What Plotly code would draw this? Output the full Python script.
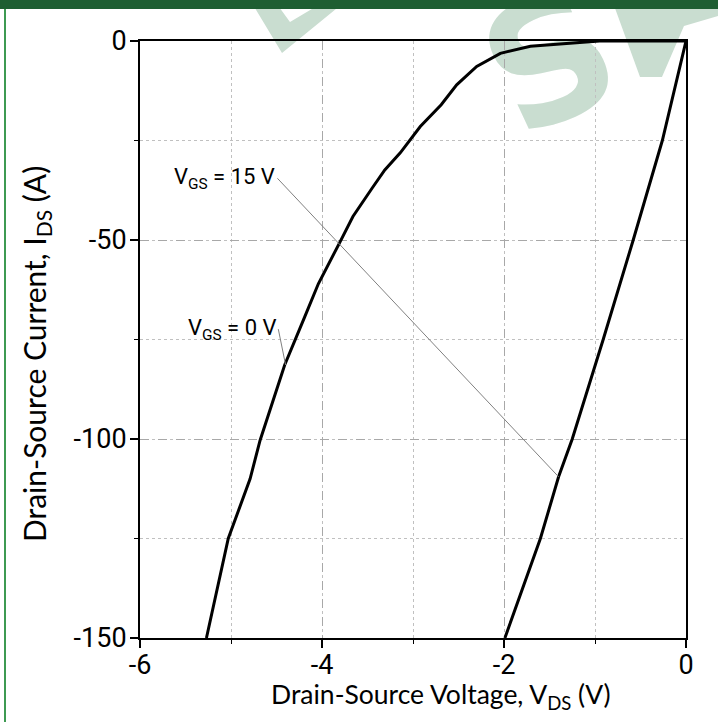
import plotly.graph_objects as go

# ---------------- data ----------------
vds_15v = [0, -0.26, -0.58, -0.91, -1.25, -1.40, -1.60, -1.99]
ids_15v = [0, -25, -50, -75, -100, -109.5, -125, -150]

vds_0v = [0, -0.95, -1.71, -2.04, -2.30, -2.52, -2.69, -2.92, -3.14, -3.31,
          -3.45, -3.66, -3.80, -4.04, -4.19, -4.41, -4.68, -4.79, -5.03, -5.27]
ids_0v = [0, 0, -1.3, -3.1, -6.4, -11, -16, -21.5, -28.1, -32.4,
          -37, -44.1, -50.4, -61, -69.3, -81.4, -100.3, -110, -125, -150]

x_ticks = [-6, -4, -2, 0]
y_ticks = [0, -50, -100, -150]

# ---------------- figure ----------------
W, H = 718, 722
ML, MR, MT, MB = 140, 32, 41, 84
PW, PH = W - ML - MR, H - MT - MB


def px(x):
    return (x - ML) / PW


def py(y):
    return (H - MB - y) / PH


COND = "Roboto, sans-serif"
TITLE = "Lato, Open Sans, sans-serif"

fig = go.Figure()
fig.add_trace(go.Scatter(x=vds_0v, y=ids_0v, mode="lines",
                         line=dict(color="black", width=3), showlegend=False))
fig.add_trace(go.Scatter(x=vds_15v, y=ids_15v, mode="lines",
                         line=dict(color="black", width=3), showlegend=False))

axis_common = dict(
    showline=True, linecolor="black", linewidth=2, mirror=True,
    ticks="outside", ticklen=8, tickwidth=2, tickcolor="black",
    showgrid=True, gridcolor="#a8a8a8", gridwidth=1, griddash="dash",
    zeroline=False,
    tickfont=dict(family=COND, size=27, color="black"),
)

fig.update_xaxes(range=[-6, 0], tickvals=x_ticks, ticktext=[str(v) for v in x_ticks],
                 ticklabelstandoff=-6,
                 minor=dict(dtick=1, tick0=0, ticks="outside", ticklen=4, tickwidth=1,
                            tickcolor="black", showgrid=True, gridcolor="#c0c0c0",
                            griddash="dot", gridwidth=1),
                 **axis_common)
fig.update_yaxes(range=[-150, 0], tickvals=y_ticks, ticktext=[str(v) for v in y_ticks],
                 ticklabelstandoff=-2,
                 minor=dict(dtick=25, tick0=0, ticks="outside", ticklen=4, tickwidth=1,
                            tickcolor="black", showgrid=True, gridcolor="#c0c0c0",
                            griddash="dot", gridwidth=1),
                 **axis_common)

annotations = [
    dict(x=-1.40, y=-109.5, ax=-4.49, ay=-34.5, xref="x", yref="y", axref="x", ayref="y",
         text="V<sub>GS</sub> = 15 V", showarrow=True, arrowhead=0, arrowwidth=1,
         arrowcolor="#808080", xanchor="right", yanchor="middle",
         font=dict(family=COND, size=22, color="black")),
    dict(x=-4.40, y=-81.4, ax=-4.48, ay=-72.4, xref="x", yref="y", axref="x", ayref="y",
         text="V<sub>GS</sub> = 0 V", showarrow=True, arrowhead=0, arrowwidth=1,
         arrowcolor="#808080", xanchor="right", yanchor="middle",
         font=dict(family=COND, size=22, color="black")),
    dict(x=px(441), y=py(696), xref="paper", yref="paper", showarrow=False,
         xanchor="center", yanchor="middle",
         text="Drain-Source Voltage, V<sub>DS</sub> (V)",
         font=dict(family=TITLE, size=26.5, color="black")),
    dict(x=px(36), y=py(354), xref="paper", yref="paper", showarrow=False, textangle=-90,
         xanchor="center", yanchor="middle",
         text="Drain-Source Current, I<sub>DS</sub> (A)",
         font=dict(family=TITLE, size=30, color="black")),
]

WM = "#c9ddd0"


def poly(points):
    d = "M " + " L ".join(f"{px(a):.4f},{py(b):.4f}" for a, b in points) + " Z"
    return dict(type="path", xref="paper", yref="paper", path=d,
                fillcolor=WM, line=dict(width=0), layer="below")


shapes = [
    poly([(250, 0), (282, 53), (347, 0), (327, 0), (290, 22), (274, 0)]),
    poly([(612, 0), (640, 77), (662, 77), (684, 26), (718, 16), (718, 0)]),
    dict(type="rect", xref="paper", yref="paper", x0=px(465), x1=px(625), y0=py(125), y1=py(-25),
         line=dict(width=0), fillcolor="rgba(0,0,0,0)", layer="below",
         label=dict(text="<b>S</b>", textangle=-25, textposition="middle center",
                    font=dict(family="DejaVu Sans", size=170, color=WM))),
    # header band and left border
    dict(type="rect", xref="paper", yref="paper", x0=px(-5), x1=px(725), y0=py(9), y1=py(-5),
         fillcolor="#1e5e32", line=dict(width=0), layer="above"),
    dict(type="rect", xref="paper", yref="paper", x0=px(4), x1=px(6), y0=py(730), y1=py(9),
         fillcolor="#3d9a52", line=dict(width=0), layer="above"),
]

fig.update_layout(
    width=W, height=H, autosize=False,
    margin=dict(l=ML, r=MR, t=MT, b=MB, pad=0),
    paper_bgcolor="white", plot_bgcolor="rgba(0,0,0,0)",
    showlegend=False, annotations=annotations, shapes=shapes,
)

fig.write_html("out.html", config={"displayModeBar": False},
               post_script="document.body.style.margin='0';document.body.style.padding='0';"
                           "document.body.style.overflow='hidden';")
